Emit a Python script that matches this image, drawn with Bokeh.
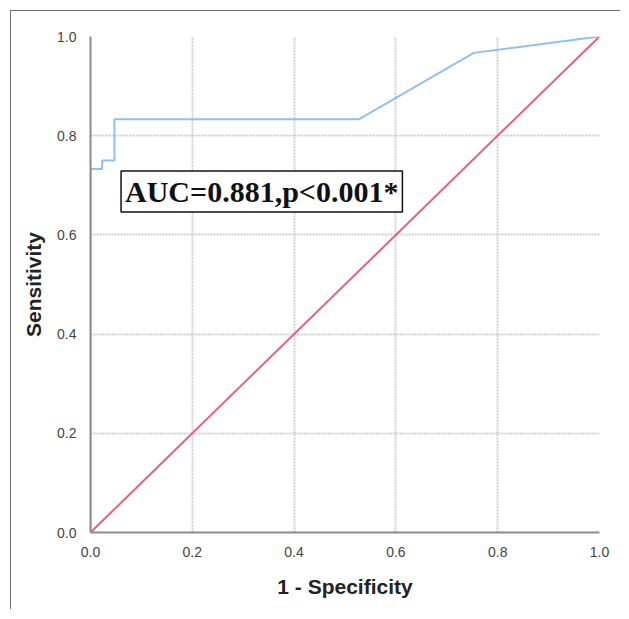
from bokeh.plotting import figure
from bokeh.models import Range1d, Label, FixedTicker, CustomJSTickFormatter
from bokeh.embed import file_html
from bokeh.resources import INLINE

# ROC curve (1 - specificity, sensitivity)
roc_fpr = [0.0, 0.0, 0.023, 0.023, 0.047, 0.047, 0.527, 0.753, 1.0]
roc_tpr = [0.0, 0.733, 0.733, 0.750, 0.750, 0.833, 0.833, 0.967, 1.0]
ref_x = [0.0, 1.0]
ref_y = [0.0, 1.0]
ticks = [0.0, 0.2, 0.4, 0.6, 0.8, 1.0]
annotation = "AUC=0.881,p<0.001*"

p = figure(width=610, height=599, output_backend="svg", toolbar_location=None,
           x_range=Range1d(0, 1), y_range=Range1d(0, 1),
           min_border_left=79, min_border_right=22, min_border_top=25, min_border_bottom=78)
p.styles = {"border-left": "1px solid #6e6e6e", "border-top": "1px solid #6e6e6e",
            "margin-left": "10px", "margin-top": "10px"}
p.outline_line_color = None

for ax in (p.xaxis, p.yaxis):
    ax.ticker = FixedTicker(ticks=ticks)
    ax.major_tick_line_color = None
    ax.minor_tick_line_color = None
    ax.axis_line_color = "#8c8c8c"
    ax.axis_line_width = 2
    ax.major_label_text_font = "Liberation Sans"
    ax.major_label_text_font_size = "14px"
    ax.major_label_text_color = "#444444"
    ax.axis_label_text_font = "Liberation Sans"
    ax.axis_label_text_font_size = "21px"
    ax.axis_label_text_font_style = "bold"
    ax.axis_label_text_color = "#222222"
p.xaxis.formatter = CustomJSTickFormatter(code="return tick.toFixed(1);")
p.yaxis.formatter = CustomJSTickFormatter(code="return tick.toFixed(1);")
p.xaxis.axis_label = "1 - Specificity"
p.yaxis.axis_label = "Sensitivity"
p.xaxis.major_label_standoff = 8
p.yaxis.major_label_standoff = 8
p.xaxis.axis_label_standoff = 15
p.yaxis.axis_label_standoff = 9

for g in (p.xgrid, p.ygrid):
    g.ticker = FixedTicker(ticks=ticks)
    g.grid_line_color = "#cfcfcf"
    g.grid_line_width = 2
    g.grid_line_dash = "2 1"

p.line(ref_x, ref_y, line_color="#e8607a", line_width=2)
p.line(roc_fpr, roc_tpr, line_color="#93bff0", line_width=2)

lab = Label(x=0.060, y=0.6875, text=annotation, text_font="Liberation Serif",
            text_font_size="30px", text_font_style="bold", text_color="#111111",
            text_baseline="middle", text_align="left",
            border_line_color="#111111", border_line_width=1.5,
            background_fill_color="white", padding=4)
p.add_layout(lab)

open("out.html", "w").write(file_html(p, INLINE))
